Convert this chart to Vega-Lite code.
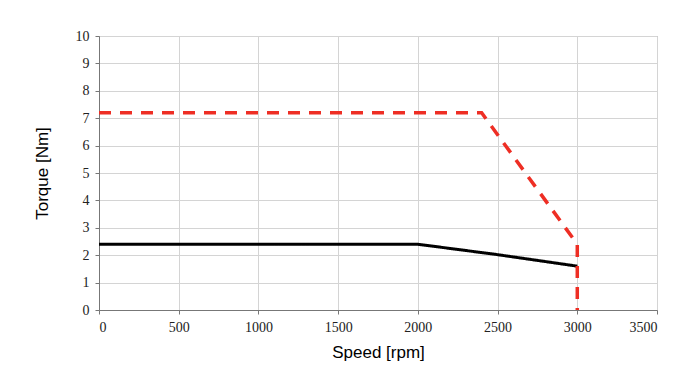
{
  "$schema": "https://vega.github.io/schema/vega-lite/v6.json",
  "width": 558,
  "height": 274,
  "autosize": {"type": "none"},
  "padding": {"left": 99, "top": 36, "right": 43, "bottom": 65},
  "background": "white",
  "config": {
    "view": {"stroke": "#9a9a9a", "strokeWidth": 1}
  },
  "data": {
    "values": [
      {"series": "rated", "speed": 0, "torque": 2.4, "o": 1},
      {"series": "rated", "speed": 2000, "torque": 2.4, "o": 2},
      {"series": "rated", "speed": 2500, "torque": 2.02, "o": 3},
      {"series": "rated", "speed": 3000, "torque": 1.6, "o": 4},
      {"series": "peak", "speed": 0, "torque": 7.2, "o": 1},
      {"series": "peak", "speed": 2400, "torque": 7.2, "o": 2},
      {"series": "peak", "speed": 3000, "torque": 2.4, "o": 3},
      {"series": "peak", "speed": 3000, "torque": 0, "o": 4}
    ]
  },
  "mark": {"type": "line", "clip": false},
  "encoding": {
    "x": {
      "field": "speed", "type": "quantitative", "title": "Speed [rpm]",
      "scale": {"domain": [0, 3500], "nice": false},
      "axis": {
        "values": [0, 500, 1000, 1500, 2000, 2500, 3000, 3500], "format": "d",
        "tickSize": 4, "labelPadding": 6, "titlePadding": 10,
        "grid": true, "gridColor": "#d4d4d4", "domainColor": "#777777", "tickColor": "#777777",
        "labelFont": "serif", "labelFontSize": 14, "labelColor": "#222222",
        "titleFont": "Liberation Sans", "titleFontSize": 17, "titleFontWeight": "normal", "titleColor": "#000000"
      }
    },
    "y": {
      "field": "torque", "type": "quantitative", "title": "Torque [Nm]",
      "scale": {"domain": [0, 10], "nice": false},
      "axis": {
        "values": [0, 1, 2, 3, 4, 5, 6, 7, 8, 9, 10], "format": "d",
        "tickSize": 4, "labelPadding": 6, "titlePadding": 24,
        "grid": true, "gridColor": "#d4d4d4", "domainColor": "#777777", "tickColor": "#777777",
        "labelFont": "serif", "labelFontSize": 14, "labelColor": "#222222",
        "titleFont": "Liberation Sans", "titleFontSize": 17, "titleFontWeight": "normal", "titleColor": "#000000"
      }
    },
    "order": {"field": "o"},
    "detail": {"field": "series"},
    "color": {
      "field": "series", "type": "nominal", "legend": null,
      "scale": {"domain": ["rated", "peak"], "range": ["#000000", "#ee2e24"]}
    },
    "strokeDash": {
      "field": "series", "type": "nominal", "legend": null,
      "scale": {"domain": ["rated", "peak"], "range": [[1, 0], [12, 9]]}
    },
    "strokeWidth": {
      "field": "series", "type": "nominal", "legend": null,
      "scale": {"domain": ["rated", "peak"], "range": [3, 3.5]}
    }
  }
}
